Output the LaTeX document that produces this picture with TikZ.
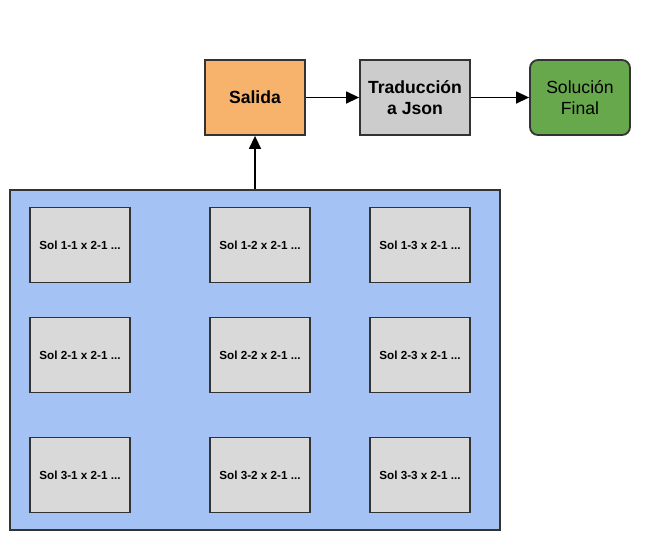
\documentclass[tikz,border=0pt]{standalone}
\usepackage{fontspec}
\setmainfont{Liberation Sans}
\usetikzlibrary{arrows.meta}

\definecolor{bordegris}{HTML}{333333}
\definecolor{naranja}{HTML}{F7B36C}
\definecolor{grismedio}{HTML}{CCCCCC}
\definecolor{grisclaro}{HTML}{D9D9D9}
\definecolor{verde}{HTML}{67A84C}
\definecolor{azul}{HTML}{A4C2F4}

\tikzset{
  caja/.style={draw=bordegris, line width=1.8pt, minimum width=100pt, minimum height=75pt, inner sep=0pt, align=center},
  solcaja/.style={caja, fill=grisclaro, font=\bfseries\fontsize{11.7}{14}\selectfont},
  textogrande/.style={font=\fontsize{17.6}{21}\selectfont},
  flecha/.style={-{Triangle[length=13pt,width=12pt]}, line width=1.4pt}
}

\begin{document}
\begin{tikzpicture}[x=1pt,y=-1pt]
        \useasboundingbox (0,0) rectangle (650,550);
        % Contenedor
        \node[caja, fill=azul, minimum width=490pt, minimum height=340pt] (cont) at (255,360) {};
        % Soluciones parciales
        \foreach \r/\y in {1/245,2/355,3/475}
          \foreach \c/\x in {1/80,2/260,3/420}
            \node[solcaja] (sol\r\c) at (\x,\y) {Sol \r-\c\ x 2-1 ...};
        % Fila superior
        \node[caja, fill=naranja, font=\bfseries\fontsize{17.6}{21}\selectfont] (salida) at (255,97.5) {Salida};
        \node[caja, fill=grismedio, minimum width=110pt, font=\bfseries\fontsize{17.6}{21}\selectfont] (trad) at (415,97.5) {Traducción\\a Json};
        \node[caja, fill=verde, rounded corners=8pt, textogrande] (final) at (580,97.5) {Solución\\Final};
        % Flechas
        \draw[flecha] (cont.north) -- (salida.south);
        \draw[flecha] (salida) -- (trad);
        \draw[flecha] (trad) -- (final);
\end{tikzpicture}
\end{document}
